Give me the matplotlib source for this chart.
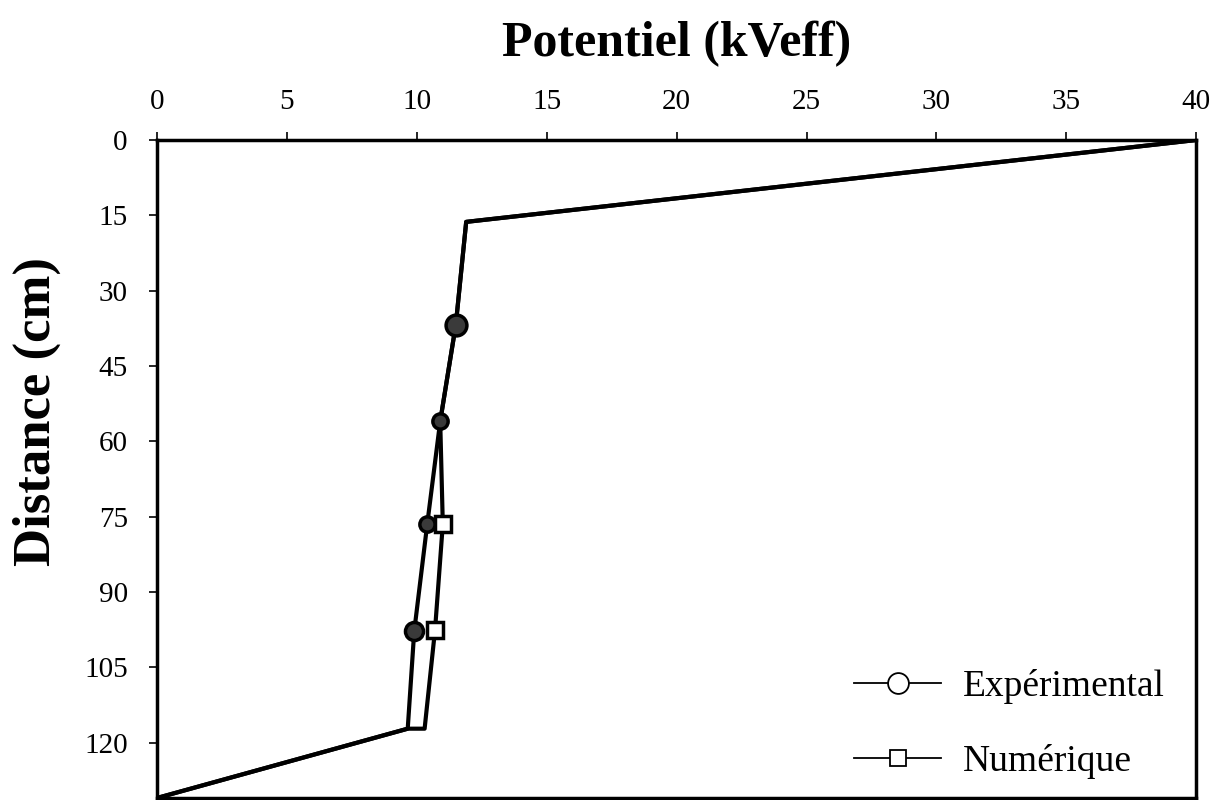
import matplotlib.pyplot as plt

# Données
exp_pot = [40, 11.9, 11.5, 10.9, 10.4, 9.9, 9.65, 0]
exp_dist = [0, 16.3, 36.8, 56, 76.5, 97.8, 117.2, 131]
exp_mark_pot = [11.5, 10.9, 10.4, 9.9]
exp_mark_dist = [36.8, 56, 76.5, 97.8]
exp_mark_size = [15, 11, 11, 13]

num_pot = [40, 11.9, 11.5, 10.9, 11.0, 10.7, 10.3, 9.65, 0]
num_dist = [0, 16.3, 36.8, 56, 76.5, 97.6, 117.2, 117.2, 131]
num_mark_pot = [11.0, 10.7]
num_mark_dist = [76.5, 97.6]

xticks = [0, 5, 10, 15, 20, 25, 30, 35, 40]
yticks = [0, 15, 30, 45, 60, 75, 90, 105, 120]

plt.rcParams['font.family'] = ['Liberation Serif', 'DejaVu Serif']

fig = plt.figure(figsize=(12.17, 8), dpi=100)
ax = fig.add_axes([0.129, 0.0025, 0.854, 0.8225])

ax.plot(exp_pot, exp_dist, color='black', lw=3)
ax.plot(num_pot, num_dist, color='black', lw=3)
for px, py, ms in zip(exp_mark_pot, exp_mark_dist, exp_mark_size):
    ax.plot(px, py, ls='none', marker='o', ms=ms,
            mfc='#3a3a3a', mec='black', mew=2.5)
ax.plot(num_mark_pot, num_mark_dist, ls='none', marker='s', ms=11,
        mfc='white', mec='black', mew=2.5)

# légende
h1, = ax.plot([], [], color='black', lw=1.3, marker='o', ms=15, mfc='white',
              mec='black', mew=1.3)
h2, = ax.plot([], [], color='black', lw=1.3, marker='s', ms=12, mfc='white',
              mec='black', mew=1.3)
ax.legend([h1, h2], ['Expérimental', 'Numérique'], loc='lower right',
          frameon=False, fontsize=27, handlelength=2.3, handletextpad=0.6,
          labelspacing=1.07, borderaxespad=0.1, bbox_to_anchor=(0.988, 0.0))

ax.set_xlim(0, 40)
ax.set_ylim(131, 0)
ax.xaxis.tick_top()
ax.xaxis.set_label_position('top')
ax.set_xticks(xticks)
ax.set_yticks(yticks)
ax.tick_params(labelsize=21, width=1.2, length=6, direction='out')
ax.tick_params(axis='x', pad=12)
ax.tick_params(axis='y', pad=15)
for s in ax.spines.values():
    s.set_linewidth(2.5)

ax.set_xlabel('Potentiel (kVeff)', fontsize=36, fontweight='bold', labelpad=24)
ax.set_ylabel('Distance (cm)', fontsize=38, fontweight='bold')
ax.yaxis.set_label_coords(-0.092, 0.587)

fig.savefig('out.png', dpi=100)
